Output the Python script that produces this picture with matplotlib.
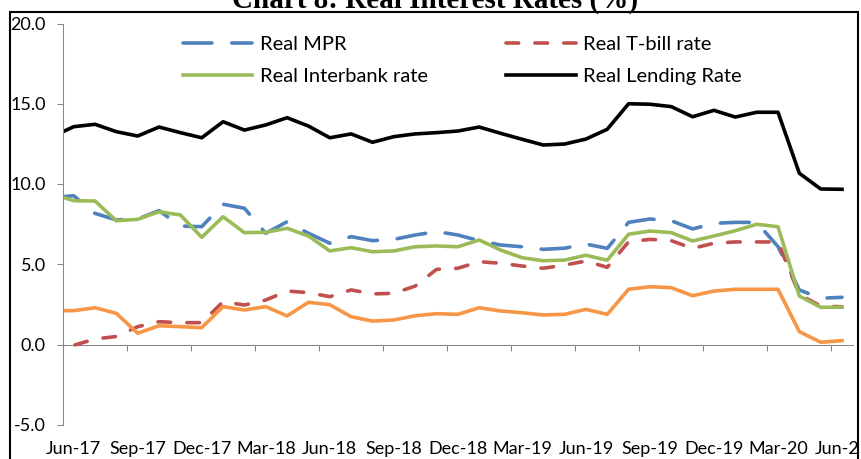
import matplotlib
matplotlib.use("Agg")
import matplotlib.pyplot as plt
import matplotlib.patches as patches
import numpy as np
import pandas as pd

plt.rcParams['font.family'] = ['Lato', 'DejaVu Sans']

# monthly, May-17 .. Jun-20 (May-17 only shows as the clipped stub at the axis)
months = pd.period_range("2017-05", "2020-06", freq="M")

real_mpr = [9.15, 9.27, 8.17, 7.76, 7.82, 8.34, 7.38, 7.34, 8.74, 8.49, 6.93, 7.65,
            6.93, 6.31, 6.72, 6.47, 6.55, 6.82, 7.04, 6.82, 6.47, 6.20, 6.09, 5.93,
            6.00, 6.26, 5.99, 7.61, 7.82, 7.71, 7.20, 7.55, 7.61, 7.61, 6.10, 3.40,
            2.88, 2.94]
real_tbill = [1.03, -0.05, 0.34, 0.50, 1.11, 1.42, 1.36, 1.36, 2.67, 2.46, 2.77, 3.33,
              3.23, 2.98, 3.40, 3.15, 3.19, 3.64, 4.68, 4.75, 5.16, 5.06, 4.89, 4.75,
              4.95, 5.20, 4.81, 6.40, 6.55, 6.47, 5.99, 6.31, 6.39, 6.39, 6.39, 3.10,
              2.40, 2.35]
real_interbank = [9.38, 8.96, 8.94, 7.71, 7.80, 8.27, 8.07, 6.68, 7.96, 6.97, 6.99, 7.24,
                  6.76, 5.83, 6.03, 5.78, 5.83, 6.09, 6.14, 6.09, 6.51, 5.89, 5.41, 5.22,
                  5.26, 5.56, 5.25, 6.87, 7.07, 6.97, 6.45, 6.76, 7.09, 7.49, 7.34, 3.02,
                  2.32, 2.32]
real_lending = [12.95, 13.57, 13.72, 13.26, 12.99, 13.55, 13.20, 12.88, 13.88, 13.36, 13.68, 14.13,
                13.61, 12.88, 13.12, 12.60, 12.95, 13.12, 13.20, 13.30, 13.55, 13.16, 12.79, 12.43,
                12.49, 12.80, 13.41, 15.00, 14.97, 14.82, 14.19, 14.59, 14.17, 14.47, 14.47, 10.67,
                9.69, 9.67]
# orange series has no legend entry in the original
unlabelled_rate = [2.11, 2.11, 2.29, 1.94, 0.70, 1.17, 1.11, 1.05, 2.36, 2.15, 2.36, 1.78,
                   2.63, 2.48, 1.73, 1.46, 1.53, 1.79, 1.92, 1.88, 2.29, 2.09, 1.98, 1.84,
                   1.88, 2.19, 1.88, 3.44, 3.60, 3.54, 3.04, 3.33, 3.44, 3.44, 3.44, 0.80,
                   0.14, 0.24]

y_ticks = [-5, 0, 5, 10, 15, 20]

x = np.arange(len(months)) - 1   # Jun-17 -> 0
tick_pos = x[1::3]
tick_labels = [p.strftime("%b-%y") for p in months[1::3]]

W, H = 861, 459
gray = '#868686'
lw = 2.6

fig = plt.figure(figsize=(W / 100, H / 100), dpi=100)
ax = fig.add_axes([63 / W, 1 - 424.75 / H, (852.7 - 63) / W, (424.75 - 23.5) / H])

l_mpr, = ax.plot(x, real_mpr, color='#4F81BD', lw=lw, dashes=(8, 5.5),
                 dash_capstyle='round', label='Real MPR')
l_tb, = ax.plot(x, real_tbill, color='#C0504D', lw=lw, dashes=(3.5, 4.5),
                dash_capstyle='round', label='Real T-bill rate')
l_ib, = ax.plot(x, real_interbank, color='#9BBB59', lw=lw, label='Real Interbank rate')
l_ld, = ax.plot(x, real_lending, color='black', lw=lw, label='Real Lending Rate')
ax.plot(x, unlabelled_rate, color='#F79646', lw=lw)

ax.set_xlim(-0.5, 36.5)
ax.set_ylim(-5, 20)
for s in ['top', 'right', 'bottom']:
    ax.spines[s].set_visible(False)
ax.spines['left'].set_color(gray)
ax.spines['left'].set_linewidth(0.75)

ax.set_yticks(y_ticks)
ax.set_yticklabels(["%.1f" % v for v in y_ticks])
ax.tick_params(axis='y', length=4.3, width=0.75, color=gray, pad=8, labelsize=13)

ax.set_xticks(tick_pos)
ax.set_xticklabels(tick_labels)
ax.tick_params(axis='x', length=0, pad=11.5, labelsize=13)

# horizontal axis sits at y = 0, labels stay low
sec = ax.secondary_xaxis(5 / 25)
sec.set_xticks(np.arange(-0.5, 37, 3))
sec.tick_params(length=4.3, width=0.75, color=gray, labelbottom=False)
sec.spines['bottom'].set_color(gray)
sec.spines['bottom'].set_linewidth(0.75)

fig.legend(handles=[l_mpr, l_ib, l_tb, l_ld], ncol=2, frameon=False,
           loc='upper left', bbox_to_anchor=(183 / W, 1 - 36 / H),
           borderpad=0, borderaxespad=0, fontsize=14.5, handlelength=3.45,
           handletextpad=0.35, columnspacing=3.9, labelspacing=0.72)

# cover anything past the chart frame, then the frame itself
fig.patches.append(patches.Rectangle((858.5 / W, 0), 1, 1, transform=fig.transFigure,
                                     facecolor='white', edgecolor='none', zorder=5))
fig.patches.append(patches.Rectangle((10 / W, -0.1), 848 / W, 1.1 - 12 / H,
                                     transform=fig.transFigure, fill=False,
                                     edgecolor='black', lw=1.5, zorder=6))

fig.text(435 / W, 1 - 8 / H, "Chart 8: Real Interest Rates (%)", ha='center',
         va='baseline', family='Liberation Serif', fontweight='bold', fontsize=21)

fig.savefig("out.png", dpi=100)
